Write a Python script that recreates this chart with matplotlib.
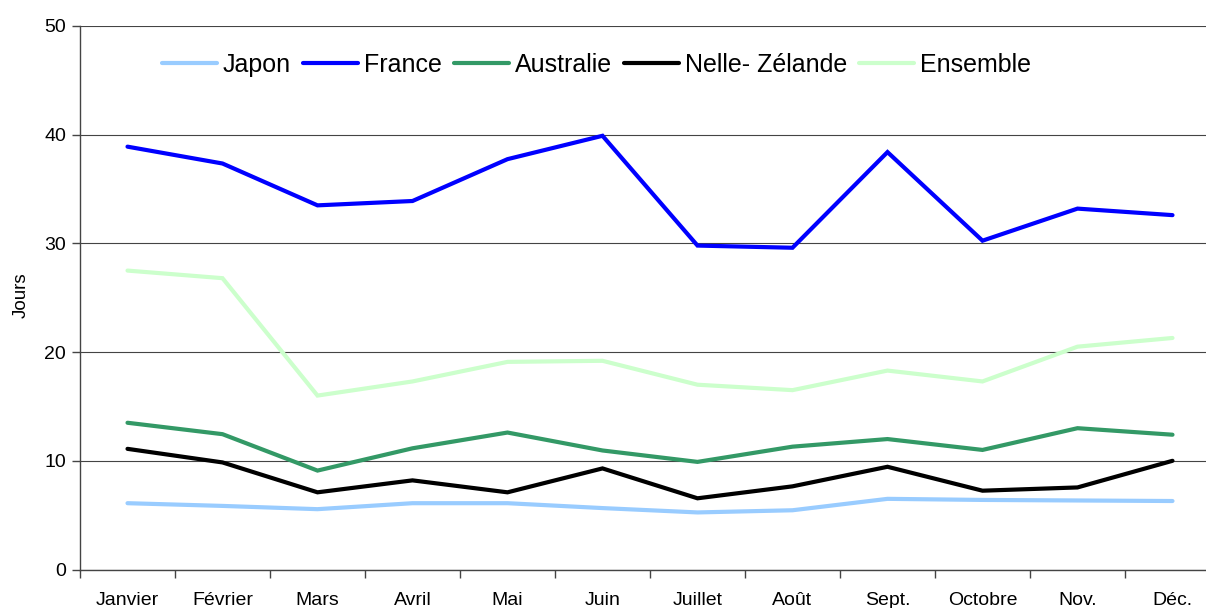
import matplotlib.pyplot as plt
from matplotlib.ticker import FixedLocator

plt.rcParams['font.family'] = ['Liberation Sans', 'DejaVu Sans']

mois = ['Janvier', 'Février', 'Mars', 'Avril', 'Mai', 'Juin',
        'Juillet', 'Août', 'Sept.', 'Octobre', 'Nov.', 'Déc.']

japon = [6.1, 5.85, 5.55, 6.1, 6.1, 5.65, 5.25, 5.45, 6.5, 6.4, 6.35, 6.3]
france = [38.9, 37.35, 33.5, 33.9, 37.75, 39.9, 29.8, 29.6, 38.4, 30.25, 33.2, 32.6]
australie = [13.5, 12.45, 9.1, 11.15, 12.6, 10.95, 9.9, 11.3, 12.0, 11.0, 13.0, 12.4]
nz = [11.1, 9.85, 7.1, 8.2, 7.1, 9.3, 6.55, 7.65, 9.45, 7.25, 7.55, 10.0]
ensemble = [27.5, 26.8, 16.0, 17.3, 19.1, 19.2, 17.0, 16.5, 18.3, 17.3, 20.5, 21.3]

series = [
    ('Japon', japon, '#99CCFF'),
    ('France', france, '#0000FF'),
    ('Australie', australie, '#339966'),
    ('Nelle- Zélande', nz, '#000000'),
    ('Ensemble', ensemble, '#CCFFCC'),
]

fig = plt.figure(figsize=(12.06, 6.08), dpi=100)
# plot area runs past the right edge of the picture, as in the original
ax = fig.add_axes([80 / 1206, 38.5 / 608, 1140 / 1206, 543.5 / 608])

x = list(range(len(mois)))
for name, vals, col in series:
    ax.plot(x, vals, color=col, lw=3, label=name, solid_capstyle='round',
            solid_joinstyle='miter')

ax.set_xlim(-0.5, len(mois) - 0.5)
ax.set_ylim(0, 50)
ax.set_yticks([0, 10, 20, 30, 40, 50])
ax.yaxis.grid(True, color='#444444', lw=0.8)
ax.set_axisbelow(True)

ax.set_xticks(x)
ax.set_xticklabels(mois)
ax.xaxis.set_minor_locator(FixedLocator([i - 0.5 for i in range(len(mois) + 1)]))
ax.tick_params(axis='x', which='major', length=0, pad=16, labelsize=14)
ax.tick_params(axis='x', which='minor', length=6, width=1, color='#444444')
ax.tick_params(axis='y', length=6, width=1, color='#444444', pad=4, labelsize=14)

for s in ['top', 'right']:
    ax.spines[s].set_visible(False)
for s in ['left', 'bottom']:
    ax.spines[s].set_color('#444444')
    ax.spines[s].set_linewidth(1)

fig.text(21 / 1206, 1 - 295 / 608, 'Jours', rotation=90, ha='center', va='center', fontsize=13.5)

fig.legend(loc='center left', bbox_to_anchor=(162 / 1206, 1 - 65 / 608), ncol=5,
           frameon=False, fontsize=18, handlelength=2.2, handletextpad=0.22,
           columnspacing=0.5, borderpad=0, borderaxespad=0)

fig.savefig('out.png', dpi=100)
